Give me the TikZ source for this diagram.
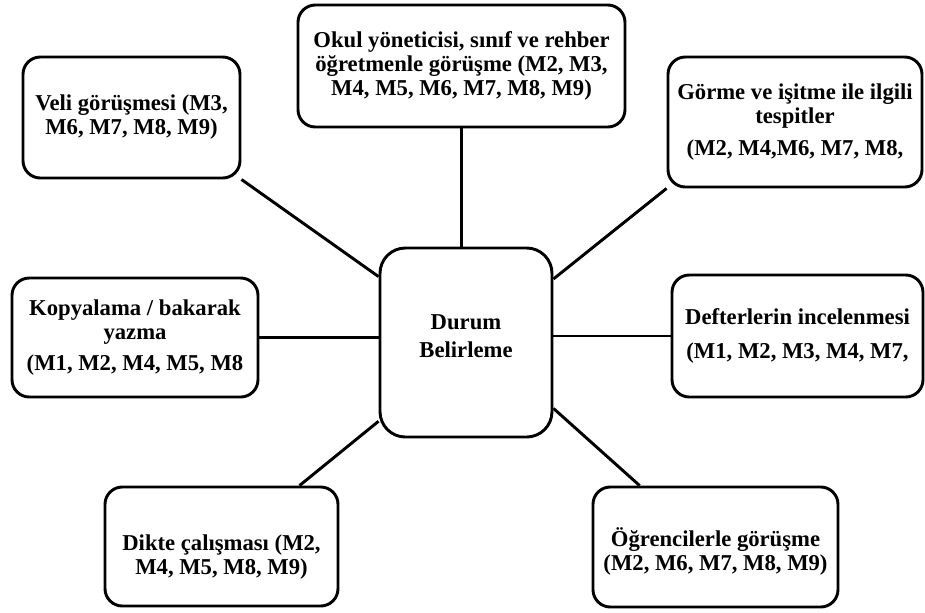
\documentclass[tikz,border=0pt]{standalone}
\usepackage{fontspec}
\setmainfont{Liberation Serif}
\usepackage{xcolor}
\usepackage{tikz}

\tikzset{
	kutu/.style={draw, line width=2.2pt, rounded corners=13pt, align=center,
		inner sep=0pt, font=\bfseries\fontsize{17}{18}\selectfont},
	bag/.style={line width=2.2pt},
}

\begin{document}
\begin{tikzpicture}[x=0.75pt,y=-0.75pt]
	\useasboundingbox (0,0) rectangle (925,612);
	% merkez
	\path (466,342.5) node[kutu, rounded corners=19pt, minimum width=129pt, minimum height=141.75pt] (durum) {Durum\\[3pt]Belirleme\\[-9pt]};
	\path (461.5,66) node[kutu, minimum width=245.25pt, minimum height=91.5pt] (okul) {Okul yöneticisi, sınıf ve rehber\\öğretmenle görüşme (M2, M3,\\M4, M5, M6, M7, M8, M9)};
	\path (131.5,117.5) node[kutu, minimum width=162.75pt, minimum height=90.75pt] (veli) {Veli görüşmesi (M3,\\M6, M7, M8, M9)};
	\path (795,122) node[kutu, minimum width=190.5pt, minimum height=97.5pt] (gorme) {Görme ve işitme ile ilgili\\tespitler\\[6pt](M2, M4,M6, M7, M8,};
	\path (135,337.5) node[kutu, minimum width=184.5pt, minimum height=89.25pt] (kopya) {Kopyalama / bakarak\\yazma\\[5pt](M1, M2, M4, M5, M8};
	\path (797.5,336) node[kutu, minimum width=188.25pt, minimum height=91.5pt] (defter) {Defterlerin incelenmesi\\[7pt](M1, M2, M3, M4, M7,};
	\path (221.5,546.5) node[kutu, minimum width=174.75pt, minimum height=89.25pt] (dikte) {\rule{0pt}{27pt}Dikte çalışması (M2,\\M4, M5, M8, M9)};
	\path (715.5,547) node[kutu, minimum width=183.75pt, minimum height=90pt] (ogrenci) {\rule{0pt}{21pt}Öğrencilerle görüşme\\(M2, M6, M7, M8, M9)};
	% baglantilar
	\draw[bag] (okul.south) -- (okul.south |- durum.north);
	\draw[bag] (veli.south east) -- (durum.143);
	\draw[bag] (gorme.south west) -- (durum.36);
	\draw[bag] (kopya.east) -- (kopya.east -| durum.west);
	\draw[bag] (defter.west) -- (defter.west -| durum.east);
	\draw[bag] (dikte.38) -- (durum.222);
	\draw[bag] (ogrenci.141) -- (durum.323);
\end{tikzpicture}
\end{document}
